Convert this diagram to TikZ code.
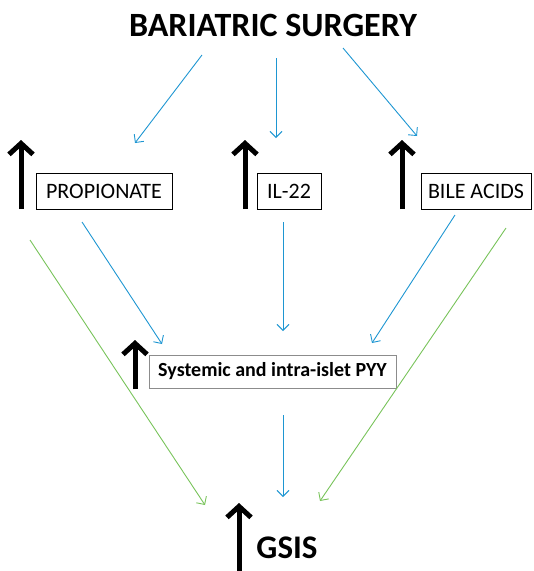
\documentclass[tikz,border=0pt]{standalone}
\usepackage{fontspec}
\setmainfont{Carlito}
\usetikzlibrary{arrows.meta}
\definecolor{flowblue}{RGB}{30,150,210}
\definecolor{flowgreen}{RGB}{120,195,90}
\tikzset{
  box/.style={draw=black, line width=0.8pt, inner sep=0pt, font=\fontsize{22}{24}\selectfont, minimum height=36pt},
  pyybox/.style={draw=black!45, line width=0.8pt, inner sep=0pt, font=\fontsize{20}{22}\selectfont\bfseries, minimum height=33pt, minimum width=247pt},
  bluearrow/.style={flowblue, line width=0.9pt, -{Straight Barb[length=6pt,width=12pt]}},
  greenarrow/.style={flowgreen, line width=0.9pt, -{Straight Barb[length=6pt,width=12pt]}},
  uparrow/.style={line width=5pt, -{Straight Barb[length=11pt,width=24pt]}},
}
\begin{document}
\begin{tikzpicture}[x=1pt,y=-1pt]
\useasboundingbox (0,0) rectangle (534,571);
% titles
\node[font=\fontsize{34}{36}\selectfont\bfseries] (title) at (273,25) {BARIATRIC SURGERY};
\node[font=\fontsize{33}{35}\selectfont\bfseries, anchor=base] (gsis) at (287,558) {GSIS};
% boxes
\node[box, minimum width=136pt] (prop) at (104,191) {PROPIONATE};
\node[box, minimum width=64pt] (il) at (289,191) {IL-22};
\node[box, minimum width=110pt] (bile) at (476,191) {BILE ACIDS};
\node[pyybox] (pyy) at (272.5,371.5) {Systemic and intra-islet PYY};
% up arrows
\coordinate (u1b) at (21,209); \coordinate (u1t) at (21,140);
\coordinate (u2b) at (245,209); \coordinate (u2t) at (245,140);
\coordinate (u3b) at (402,209); \coordinate (u3t) at (402,140);
\coordinate (u4b) at (135,389); \coordinate (u4t) at (135,340);
\coordinate (u5b) at (239,575); \coordinate (u5t) at (239,503);
\foreach \i in {1,...,5} {\draw[uparrow] (u\i b) -- (u\i t);}
% blue arrows from surgery
\coordinate (s1) at (202,55); \coordinate (e1) at (135,143);
\coordinate (s2) at (276,58); \coordinate (e2) at (276,138);
\coordinate (s3) at (343,48); \coordinate (e3) at (417,136);
\draw[bluearrow] (s1) -- (e1);
\draw[bluearrow] (s2) -- (e2);
\draw[bluearrow] (s3) -- (e3);
% blue arrows to PYY
\coordinate (p1) at (82,222); \coordinate (q1) at (162,344);
\coordinate (p2) at (283,222); \coordinate (q2) at (283,331);
\coordinate (p3) at (455,215); \coordinate (q3) at (372,343);
\draw[bluearrow] (p1) -- (q1);
\draw[bluearrow] (p2) -- (q2);
\draw[bluearrow] (p3) -- (q3);
% PYY to GSIS
\coordinate (r1) at (283,415); \coordinate (r2) at (283,497);
\draw[bluearrow] (r1) -- (r2);
% green arrows
\coordinate (g1s) at (30,240); \coordinate (g1e) at (205,505);
\coordinate (g2s) at (506,228); \coordinate (g2e) at (320,501);
\draw[greenarrow] (g1s) -- (g1e);
\draw[greenarrow] (g2s) -- (g2e);
\end{tikzpicture}
\end{document}
